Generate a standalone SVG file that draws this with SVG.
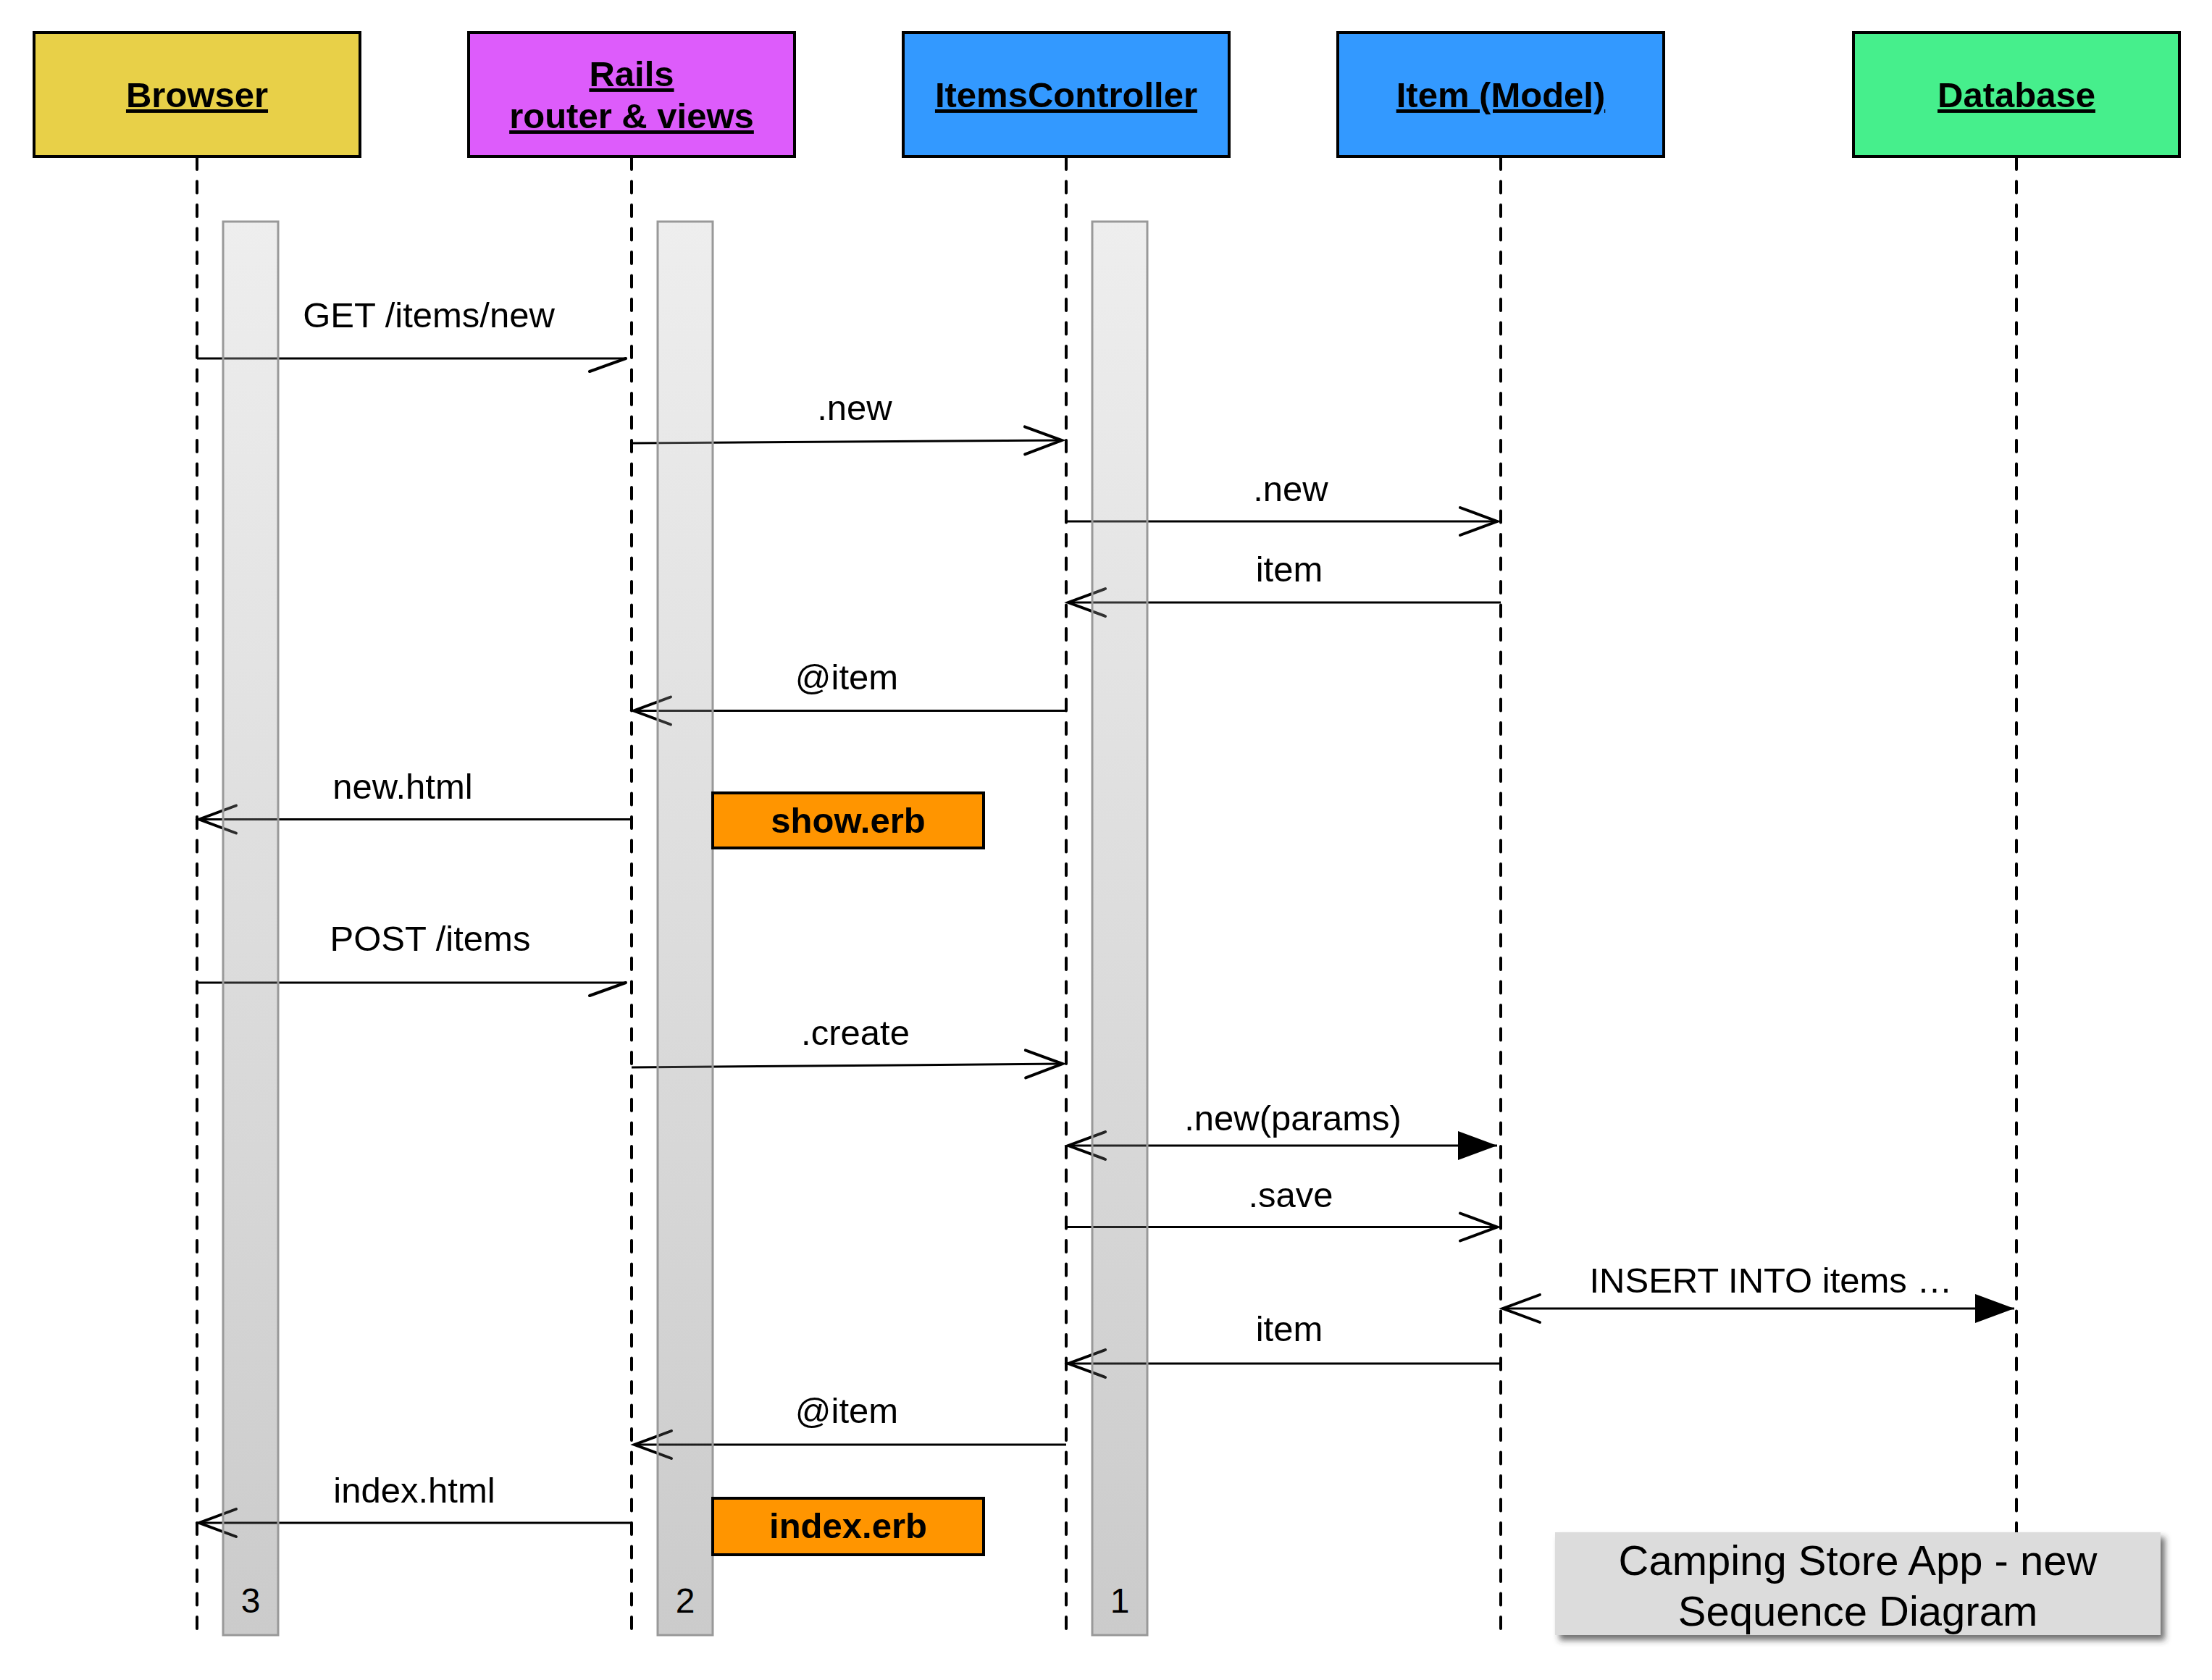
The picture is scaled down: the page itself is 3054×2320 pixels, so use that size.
<svg xmlns="http://www.w3.org/2000/svg" width="3054" height="2320" viewBox="0 0 3054 2320">
<style>
  .hdr { stroke:#000; stroke-width:4; }
  .ht { font-family:"Liberation Sans", Arial, sans-serif; font-weight:bold; font-size:49px; text-anchor:middle; text-decoration:underline; fill:#000; }
  .life { stroke:#000; stroke-width:4; stroke-linecap:round; stroke-dasharray:16 16.5; fill:none; }
  .bar { fill:url(#barGrad); stroke:#999; stroke-width:3; }
  .num { font-family:"Liberation Sans", Arial, sans-serif; font-size:48px; text-anchor:middle; fill:#000; }
  .msg { stroke:#000; stroke-width:3; fill:none; }
  .lbl { font-family:"Liberation Sans", Arial, sans-serif; font-size:49px; text-anchor:middle; fill:#000; }
  .erb { fill:#ff9500; stroke:#000; stroke-width:4; }
  .erbt { font-family:"Liberation Sans", Arial, sans-serif; font-weight:bold; font-size:49px; text-anchor:middle; fill:#000; }
  .ttl { font-family:"Liberation Sans", Arial, sans-serif; font-size:58px; text-anchor:middle; fill:#000; }
  .head { fill:none; stroke:#000; stroke-width:4; stroke-linecap:round; }
</style>
<defs>
  <linearGradient id="barGrad" x1="0" y1="0" x2="0" y2="1">
    <stop offset="0" stop-color="#c6c6c6" stop-opacity="0.3"/>
    <stop offset="1" stop-color="#525252" stop-opacity="0.3"/>
  </linearGradient>
  <marker id="open" markerUnits="userSpaceOnUse" viewBox="-60 -25 66 50" refX="0" refY="0" markerWidth="66" markerHeight="50" orient="auto">
    <path class="head" d="M-51,-19 L0,0 L-51,19"/>
  </marker>
  <marker id="openStart" markerUnits="userSpaceOnUse" viewBox="-60 -25 66 50" refX="0" refY="0" markerWidth="66" markerHeight="50" orient="auto-start-reverse">
    <path class="head" d="M-51,-19 L0,0 L-51,19"/>
  </marker>
  <marker id="half" markerUnits="userSpaceOnUse" viewBox="-60 -25 66 50" refX="0" refY="0" markerWidth="66" markerHeight="50" orient="auto">
    <path class="head" d="M-50,18 L0,0"/>
  </marker>
  <marker id="filled" markerUnits="userSpaceOnUse" viewBox="-60 -25 66 50" refX="0" refY="0" markerWidth="66" markerHeight="50" orient="auto">
    <path d="M-54,-20 L0,0 L-54,20 Z" fill="#000"/>
  </marker>
  <filter id="shadow" x="-5%" y="-10%" width="115%" height="130%">
    <feDropShadow dx="6" dy="7" stdDeviation="4" flood-color="#333" flood-opacity="0.7"/>
  </filter>
</defs>
<rect width="3054" height="2320" fill="#fff"/>

<g id="lifelines">
  <line class="life" x1="272" y1="218" x2="272" y2="2256"/>
  <line class="life" x1="872" y1="218" x2="872" y2="2256"/>
  <line class="life" x1="1472" y1="218" x2="1472" y2="2256"/>
  <line class="life" x1="2072" y1="218" x2="2072" y2="2256"/>
  <line class="life" x1="2784" y1="218" x2="2784" y2="2256"/>
</g>

<g id="browser">
  <rect class="hdr" x="47" y="45" width="450" height="171" fill="#e8d048"/>
  <text class="ht" x="272" y="148">Browser</text>
</g>
<g id="rails">
  <rect class="hdr" x="647" y="45" width="450" height="171" fill="#dd5cfb"/>
  <text class="ht" x="872" y="119">Rails</text>
  <text class="ht" x="872" y="177">router &amp; views</text>
</g>
<g id="itemscontroller">
  <rect class="hdr" x="1247" y="45" width="450" height="171" fill="#3399ff"/>
  <text class="ht" x="1472" y="148">ItemsController</text>
</g>
<g id="item-model">
  <rect class="hdr" x="1847" y="45" width="450" height="171" fill="#3399ff"/>
  <text class="ht" x="2072" y="148">Item (Model)</text>
</g>
<g id="database">
  <rect class="hdr" x="2559" y="45" width="450" height="171" fill="#46ef8c"/>
  <text class="ht" x="2784" y="148">Database</text>
</g>

<g id="connectors">
  <line class="msg" x1="272" y1="495" x2="864" y2="495" marker-end="url(#half)"/>
  <line class="msg" x1="872" y1="612" x2="1466" y2="608" marker-end="url(#open)"/>
  <line class="msg" x1="1472" y1="720" x2="2067" y2="720" marker-end="url(#open)"/>
  <line class="msg" x1="2072" y1="832" x2="1475" y2="832" marker-end="url(#open)"/>
  <line class="msg" x1="1472" y1="981.5" x2="875" y2="981.5" marker-end="url(#open)"/>
  <line class="msg" x1="872" y1="1131.5" x2="275" y2="1131.5" marker-end="url(#open)"/>
  <line class="msg" x1="272" y1="1357" x2="864" y2="1357" marker-end="url(#half)"/>
  <line class="msg" x1="872" y1="1474" x2="1467" y2="1469" marker-end="url(#open)"/>
  <line class="msg" x1="1475" y1="1582" x2="2067" y2="1582" marker-start="url(#openStart)" marker-end="url(#filled)"/>
  <line class="msg" x1="1472" y1="1694.5" x2="2067" y2="1694.5" marker-end="url(#open)"/>
  <line class="msg" x1="2075" y1="1807" x2="2781" y2="1807" marker-start="url(#openStart)" marker-end="url(#filled)"/>
  <line class="msg" x1="2072" y1="1883" x2="1475" y2="1883" marker-end="url(#open)"/>
  <line class="msg" x1="1472" y1="1995" x2="876" y2="1995" marker-end="url(#open)"/>
  <line class="msg" x1="872" y1="2103" x2="275" y2="2103" marker-end="url(#open)"/>

  <text class="lbl" x="592" y="452">GET /items/new</text>
  <text class="lbl" x="1180" y="580">.new</text>
  <text class="lbl" x="1782" y="692">.new</text>
  <text class="lbl" x="1780" y="803">item</text>
  <text class="lbl" x="1169" y="952">@item</text>
  <text class="lbl" x="556" y="1103">new.html</text>
  <text class="lbl" x="594" y="1313">POST /items</text>
  <text class="lbl" x="1181" y="1443">.create</text>
  <text class="lbl" x="1785" y="1561">.new(params)</text>
  <text class="lbl" x="1782" y="1667">.save</text>
  <text class="lbl" x="2445" y="1785">INSERT INTO items …</text>
  <text class="lbl" x="1780" y="1852">item</text>
  <text class="lbl" x="1169" y="1965">@item</text>
  <text class="lbl" x="572" y="2075">index.html</text>
</g>

<g id="activation-3">
  <rect class="bar" x="308" y="306" width="76" height="1952"/>
  <text class="num" x="346" y="2227">3</text>
</g>
<g id="activation-2">
  <rect class="bar" x="908" y="306" width="76" height="1952"/>
  <text class="num" x="946" y="2227">2</text>
</g>
<g id="activation-1">
  <rect class="bar" x="1508" y="306" width="76" height="1952"/>
  <text class="num" x="1546" y="2227">1</text>
</g>

<g id="show-erb">
  <rect class="erb" x="984" y="1095" width="374" height="76"/>
  <text class="erbt" x="1171" y="1150">show.erb</text>
</g>
<g id="index-erb">
  <rect class="erb" x="984" y="2069" width="374" height="78"/>
  <text class="erbt" x="1171" y="2124">index.erb</text>
</g>

<g id="title">
  <rect x="2147" y="2116" width="836" height="142" fill="#dcdcdc" filter="url(#shadow)"/>
  <text class="ttl" x="2565" y="2175">Camping Store App - new</text>
  <text class="ttl" x="2565" y="2245">Sequence Diagram</text>
</g>
</svg>
